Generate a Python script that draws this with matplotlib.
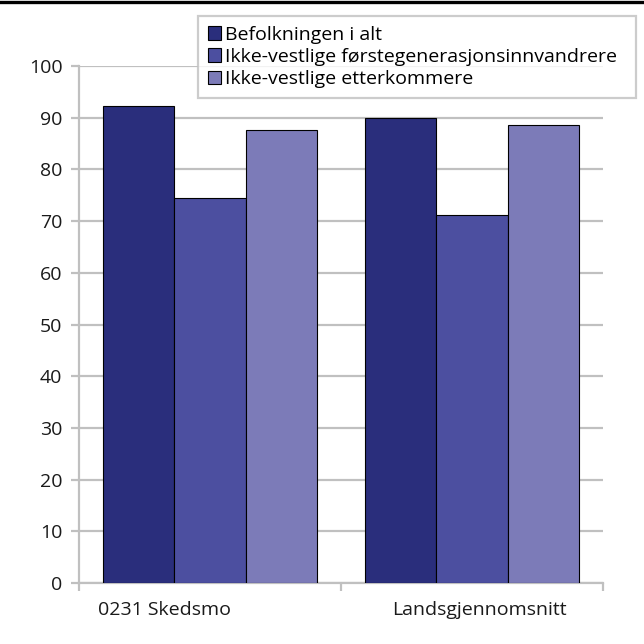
import matplotlib
matplotlib.use("Agg")
import matplotlib.pyplot as plt
from matplotlib.lines import Line2D
import numpy as np

plt.rcParams['font.family'] = ['Open Sans', 'DejaVu Sans']

# Data
categories = ["0231 Skedsmo", "Landsgjennomsnitt"]
series_names = ["Befolkningen i alt",
                "Ikke-vestlige førstegenerasjonsinnvandrere",
                "Ikke-vestlige etterkommere"]
values = [
    [92.2, 90.0],   # Befolkningen i alt
    [74.4, 71.1],   # Ikke-vestlige førstegenerasjonsinnvandrere
    [87.6, 88.5],   # Ikke-vestlige etterkommere
]
colors = ["#2a2e7c", "#4c4fa0", "#7c7bb8"]
yticks = list(range(0, 101, 10))

grid_col = "#c0c0c0"
fs = 14

fig = plt.figure(figsize=(6.44, 6.44), dpi=100)
ax = fig.add_axes([79/644, 61/644, 524/644, 517/644])

x = np.arange(len(categories))
width = 0.271
bars = []
for i, (name, vals) in enumerate(zip(series_names, values)):
    b = ax.bar(x + (i - 1) * width, vals, width, color=colors[i],
               edgecolor="black", linewidth=0.8, label=name, zorder=3)
    bars.append(b)

ax.set_xlim(-0.5, len(categories) - 0.5)
ax.set_ylim(0, 100)
ax.set_yticks(yticks)
ax.yaxis.grid(True, color=grid_col, linewidth=1.6, zorder=0)
ax.tick_params(axis="y", length=6, width=1.6, color=grid_col, labelsize=fs,
               pad=6, labelcolor="#1a1a1a")

# category boundary ticks (major) and labels (minor)
ax.set_xticks(np.arange(len(categories) + 1) - 0.5)
ax.set_xticklabels([])
ax.tick_params(axis="x", which="major", length=6, width=1.6, color=grid_col)
ax.set_xticks([-0.175, 1.03], minor=True)
ax.set_xticklabels(categories, minor=True)
ax.tick_params(axis="x", which="minor", length=0, labelsize=fs, pad=13,
               labelcolor="#1a1a1a")

for s in ["top", "right"]:
    ax.spines[s].set_visible(False)
for s in ["left", "bottom"]:
    ax.spines[s].set_color(grid_col)
    ax.spines[s].set_linewidth(1.6)

leg = fig.legend(handles=[b[0] for b in bars], labels=series_names,
                 loc="upper left", mode="expand",
                 bbox_to_anchor=(198/644, 1 - 97/644, 438/644, 81/644),
                 fontsize=fs, frameon=True, fancybox=False,
                 handlelength=0.7, handleheight=0.7, handletextpad=0.2,
                 labelspacing=0.22, borderpad=0.5, borderaxespad=0)
leg.get_frame().set_edgecolor(grid_col)
leg.get_frame().set_linewidth(1.6)

# black rule along the top
fig.add_artist(Line2D([0, 1], [1 - 1.5/644, 1 - 1.5/644], color="black",
                      linewidth=2.4, transform=fig.transFigure))

fig.savefig("out.png", dpi=100)
